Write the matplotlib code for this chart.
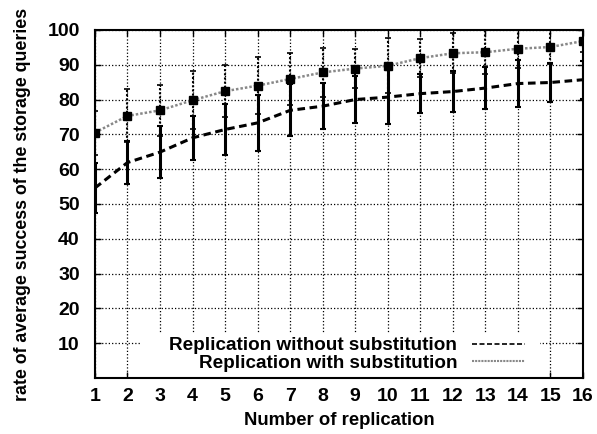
#!/usr/bin/env python3

from matplotlib import pyplot as plt
from matplotlib.lines import Line2D
from matplotlib.patches import Rectangle
import numpy as np

plt.rcParams['font.family'] = ['Liberation Sans', 'DejaVu Sans']
plt.rcParams['font.weight'] = 'bold'

# 読み取った値
replication = np.arange(1, 17)
with_subst = [70.5, 75.3, 76.9, 79.8, 82.4, 84.0, 85.9, 87.8, 88.9, 89.7, 91.9, 93.3, 93.6, 94.6, 95.1, 96.8]
with_err = [6.3, 7.6, 7.4, 8.3, 7.4, 8.2, 7.6, 7.0, 5.7, 7.9, 5.4, 5.7, 6.4, 5.4, 4.9, 3.2]
without_subst = [54.6, 61.9, 64.9, 69.0, 71.4, 73.3, 76.9, 78.1, 80.0, 80.7, 81.7, 82.3, 83.3, 84.6, 84.9, 85.7]
without_err = [7.2, 6.1, 7.4, 6.3, 7.4, 8.1, 7.5, 6.6, 6.8, 7.7, 5.5, 5.8, 6.0, 6.7, 5.6, 5.5]

fig = plt.figure(figsize=(5.97, 4.34), dpi=100)
ax = fig.add_axes([0.159, 0.129, 0.8175, 0.802])

# グリッド
ax.set_axisbelow(True)
ax.grid(True, ls=':', lw=0.9, color='black')

# 凡例の白い領域
ax.add_patch(Rectangle((0.092, 0.0), 0.82, 0.129, transform=ax.transAxes,
                       facecolor='white', edgecolor='none', zorder=1))

# 置換なし
ax.errorbar(replication, without_subst, yerr=without_err, fmt='none',
            ecolor='black', elinewidth=2.2, capsize=2.5, capthick=1.5, zorder=3)
ax.plot(replication, without_subst, c='black', ls=(0, (2.5, 1.5)), lw=2.2, zorder=3)

# 置換あり
eb2 = ax.errorbar(replication, with_subst, yerr=with_err, fmt='none',
                  ecolor='black', elinewidth=1.5, capsize=2.5, capthick=1.2, zorder=4)
for lc in eb2[2]:
    lc.set_linestyle((0, (1, 1)))
ax.plot(replication, with_subst, c='#888888', ls=(0, (1, 0.8)), lw=1.8, zorder=4)
ax.plot(replication, with_subst, ls='none', marker='s', ms=6, c='black', zorder=5)

ax.set_xlim(1, 16)
ax.set_ylim(0, 100)
ax.set_xticks(replication)
ax.set_yticks(np.arange(10, 101, 10))
ax.tick_params(direction='in', top=True, right=True, length=4, width=1, labelsize=14)
ax.tick_params(axis='x', pad=7)
ax.tick_params(axis='y', pad=11)
for lab in ax.get_xticklabels() + ax.get_yticklabels():
    lab.set_fontweight('bold')
for s in ax.spines.values():
    s.set_linewidth(1.5)
    s.set_zorder(6)

ax.set_xlabel("Number of replication", fontsize=13.3, fontweight='bold', labelpad=5)
ax.set_ylabel("rate of average success of the storage queries", fontsize=12.8, fontweight='bold', labelpad=12)

handles = [Line2D([], [], c='black', ls=(0, (3, 1.5)), lw=1.2),
           Line2D([], [], c='#888888', ls=(0, (1, 0.5)), lw=1.5)]
labels = ['Replication without substitution', 'Replication with substitution']
leg = ax.legend(handles, labels, loc='lower right', bbox_to_anchor=(0.9125, -0.025),
                markerfirst=False, frameon=False, handlelength=2.8,
                handletextpad=0.8, labelspacing=0.0, borderpad=0.3,
                prop={'weight': 'bold', 'size': 13.6})
leg.set_zorder(7)

plt.savefig('out.png')
